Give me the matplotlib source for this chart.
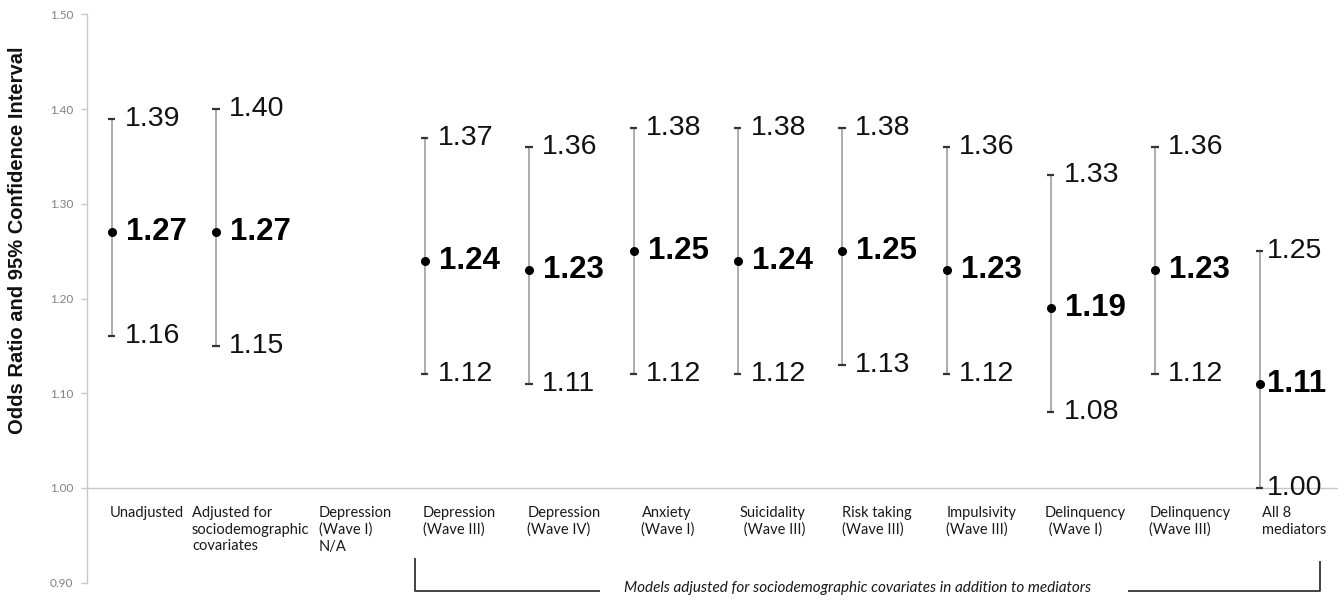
import numpy as np
import matplotlib
matplotlib.use("Agg")
import matplotlib.pyplot as plt

categories = [
    "Unadjusted",
    "Adjusted for\nsociodemographic\ncovariates",
    "Depression\n(Wave I)\nN/A",
    "Depression\n(Wave III)",
    "Depression\n(Wave IV)",
    "Anxiety\n(Wave I)",
    "Suicidality\n (Wave III)",
    "Risk taking\n(Wave III)",
    "Impulsivity\n(Wave III)",
    "Delinquency\n (Wave I)",
    "Delinquency\n(Wave III)",
    "All 8\nmediators",
]
odds_ratio = [1.27, 1.27, np.nan, 1.24, 1.23, 1.25, 1.24, 1.25, 1.23, 1.19, 1.23, 1.11]
ci_lower = [1.16, 1.15, np.nan, 1.12, 1.11, 1.12, 1.12, 1.13, 1.12, 1.08, 1.12, 1.00]
ci_upper = [1.39, 1.40, np.nan, 1.37, 1.36, 1.38, 1.38, 1.38, 1.36, 1.33, 1.36, 1.25]
y_ticks = [0.90, 1.00, 1.10, 1.20, 1.30, 1.40, 1.50]
y_label = "Odds Ratio and 95% Confidence Interval"
bracket_text = "Models adjusted for sociodemographic covariates in addition to mediators"

W, H = 1344, 602
fig = plt.figure(figsize=(W / 100, H / 100), dpi=100)
ax = fig.add_axes([87 / W, 1 - 582.7 / H, (1338 - 87) / W, (582.7 - 14.5) / H])

x = np.arange(len(categories))
ax.set_xlim(-0.24, 11.75)
ax.set_ylim(0.90, 1.50)

# spines
for s in ["top", "right", "bottom"]:
    ax.spines[s].set_visible(False)
ax.spines["left"].set_color("#c8c8c8")
ax.spines["left"].set_linewidth(1.0)
ax.axhline(1.00, color="#c8c8c8", lw=1.0, zorder=1)

ax.set_yticks(y_ticks)
ax.set_yticklabels([f"{v:.2f}" for v in y_ticks], fontfamily="Lato", fontsize=8.5, color="#808080")
ax.tick_params(axis="y", length=4, color="#c8c8c8", width=1.0, pad=6)
ax.set_xticks([])

mean = np.array(odds_ratio)
lo = np.array(ci_lower)
hi = np.array(ci_upper)
valid = ~np.isnan(mean)

ax.vlines(x[valid], lo[valid], hi[valid], color="#a6a6a6", lw=1.3, zorder=2)
ax.hlines(lo[valid], x[valid] - 0.04, x[valid] + 0.03, color="#333333", lw=1.6, zorder=3)
ax.hlines(hi[valid], x[valid] - 0.04, x[valid] + 0.03, color="#333333", lw=1.6, zorder=3)
ax.plot(x[valid], mean[valid], "o", color="black", ms=5.5, zorder=4)

for xi, m, l, h in zip(x, mean, lo, hi):
    if np.isnan(m):
        continue
    off = 9 if xi < 11 else 5
    offm = 10 if xi < 11 else 5
    ax.annotate(f"{h:.2f}", (xi, h), xytext=(off, 0), textcoords="offset points",
                ha="left", va="center", fontsize=20.5, fontfamily="Liberation Sans",
                color="#111111", annotation_clip=False)
    ax.annotate(f"{l:.2f}", (xi, l), xytext=(off, 0), textcoords="offset points",
                ha="left", va="center", fontsize=20.5, fontfamily="Liberation Sans",
                color="#111111", annotation_clip=False)
    ax.annotate(f"{m:.2f}", (xi, m), xytext=(offm, 0), textcoords="offset points",
                ha="left", va="center", fontsize=22.5, fontweight="bold",
                fontfamily="Liberation Sans", color="black", annotation_clip=False)

# category labels
for xi, lab in zip(x, categories):
    ax.text(xi + 0.33, 0.981, lab, ha="center", va="top", multialignment="left",
            fontsize=10.5, fontfamily="Lato", color="#1a1a1a", linespacing=1.25,
            clip_on=False)

# bracket
yb = 0.8912
bk = dict(color="#333333", lw=1.3, clip_on=False, solid_capstyle="butt")
ax.plot([2.905, 2.905, 4.68], [0.926, yb, yb], **bk)
ax.plot([9.74, 11.58, 11.58], [yb, yb, 0.923], **bk)
ax.text(7.15, 0.8945, bracket_text, ha="center", va="center", fontsize=11,
        fontstyle="italic", fontfamily="Lato", color="#1a1a1a", clip_on=False)

fig.text(18 / W, 1 - 240 / H, y_label, rotation=90, ha="center", va="center",
         fontsize=14.5, fontweight="bold", fontfamily="Liberation Sans", color="#111111")

fig.savefig("out.png", dpi=100)
